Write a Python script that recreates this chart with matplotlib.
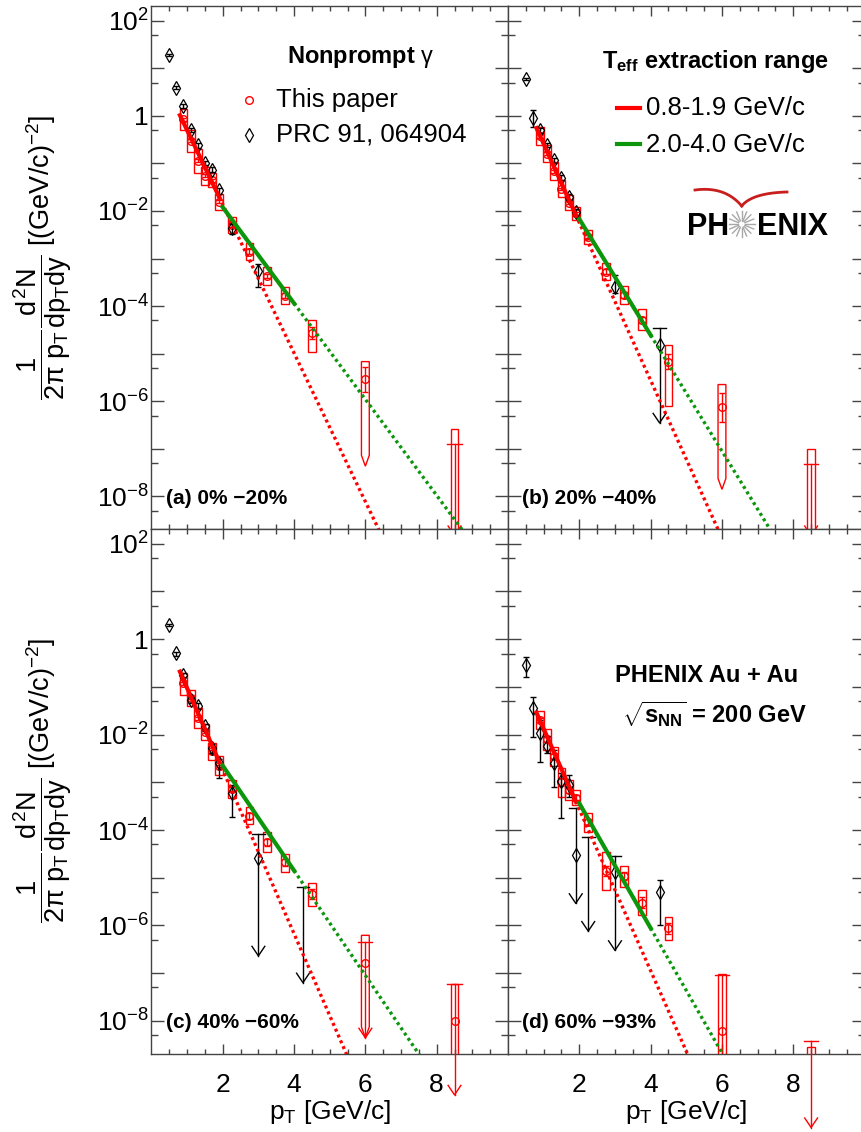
import numpy as np
import matplotlib
matplotlib.use("Agg")
import matplotlib.pyplot as plt
from matplotlib.patches import Rectangle, Polygon
from matplotlib.lines import Line2D
from matplotlib.ticker import FixedLocator, NullFormatter, FuncFormatter

plt.rcParams["font.family"] = ["Liberation Sans", "DejaVu Sans"]
plt.rcParams["mathtext.fontset"] = "custom"
plt.rcParams["mathtext.rm"] = "Liberation Sans"
plt.rcParams["mathtext.it"] = "Liberation Sans"
plt.rcParams["mathtext.bf"] = "Liberation Sans:bold"

nan = np.nan

# ---- data -------------------------------------------------------------
pt_this = [0.9, 1.1, 1.3, 1.5, 1.7, 1.9, 2.25, 2.75, 3.25, 3.75, 4.5, 6.0, 8.5]
pt_prc = [0.5, 0.7, 0.9, 1.1, 1.3, 1.5, 1.7, 1.9, 2.25, 3.0, 4.25]

panel_labels = ["(a) 0% \u221220%", "(b) 20% \u221240%", "(c) 40% \u221260%", "(d) 60% \u221293%"]

# This paper: value, syst box top/bottom, stat (dex)
this_a = [0.84, 0.30, 0.115, 0.055, 0.044, 0.0155, 5.0e-3, 1.4e-3, 4.3e-4, 1.67e-4, 2.75e-5, 2.9e-6, nan]
box_hi_a = [1.42, 0.51, 0.204, 0.084, 0.062, 0.0233, 7.4e-3, 2.1e-3, 6.5e-4, 2.5e-4, 5.0e-5, 6.8e-6, 2.6e-7]
box_lo_a = [0.50, 0.174, 0.063, 0.035, 0.032, 0.0103, 3.4e-3, 9.2e-4, 2.74e-4, 1.09e-4, 1.07e-5, 4.3e-8, 1e-10]
stat_a = [0.03, 0.03, 0.03, 0.03, 0.03, 0.03, 0.04, 0.05, 0.05, 0.06, 0.13, 0.26, nan]

this_b = [0.37, 0.16, 0.068, 0.029, 0.0147, 8.9e-3, 2.8e-3, 5.3e-4, 1.7e-4, 5.1e-5, 6.8e-6, 7.4e-7, nan]
box_hi_b = [0.58, 0.24, 0.107, 0.044, 0.0214, 0.0121, 3.9e-3, 8.1e-4, 2.63e-4, 8.5e-5, 1.55e-5, 2.24e-6, 9.8e-8]
box_lo_b = [0.24, 0.107, 0.044, 0.0197, 0.0103, 6.4e-3, 2.07e-3, 3.5e-4, 1.1e-4, 3.1e-5, 8.1e-7, 1.4e-8, 1e-10]
stat_b = [0.03, 0.03, 0.03, 0.03, 0.03, 0.03, 0.04, 0.05, 0.06, 0.07, 0.15, 0.3, nan]

this_c = [0.12, 0.059, 0.022, 0.0116, 4.5e-3, 2.2e-3, 7.2e-4, 2.0e-4, 5.5e-5, 2.1e-5, 4.6e-6, 1.6e-7, 1.0e-8]
box_hi_c = [0.2, 0.087, 0.036, 0.0168, 6.8e-3, 3.6e-3, 1.12e-3, 3.0e-4, 8.9e-5, 3.2e-5, 7.8e-6, 6.2e-7, 5.8e-8]
box_lo_c = [0.068, 0.040, 0.0137, 7.8e-3, 2.95e-3, 1.45e-3, 4.6e-4, 1.34e-4, 3.4e-5, 1.32e-5, 2.5e-6, 4.4e-9, 1e-10]
stat_c = [0.03, 0.03, 0.03, 0.03, 0.03, 0.03, 0.05, 0.06, 0.07, 0.07, 0.1, nan, nan]

this_d = [0.0204, 7.9e-3, 3.5e-3, 1.0e-3, 6.9e-4, 4.8e-4, 1.47e-4, 1.4e-5, 1.07e-5, 3.0e-6, 8.7e-7, 6.2e-9, nan]
box_hi_d = [0.032, 0.013, 5.5e-3, 2.0e-3, 1.12e-3, 6.9e-4, 2.26e-4, 3.5e-5, 1.72e-5, 5.6e-6, 1.48e-6, 9.5e-8, 2.8e-9]
box_lo_d = [0.013, 4.8e-3, 2.2e-3, 5.0e-4, 4.3e-4, 3.4e-4, 9.3e-5, 5.6e-6, 6.5e-6, 1.67e-6, 5.0e-7, 1e-10, 1e-10]
stat_d = [0.04, 0.05, 0.05, 0.08, 0.06, 0.06, 0.06, 0.1, 0.08, 0.12, 0.12, nan, nan]

# upper-limit arrows on "This paper" points (cap, tip)
this_ul_cap = [
    [nan] * 12 + [1.23e-7],
    [nan] * 12 + [4.9e-8],
    [nan] * 11 + [4.5e-7, 5.8e-8],
    [nan] * 11 + [9.0e-8, 3.7e-9],
]
this_ul_tip = [
    [nan] * 12 + [1.5e-9],
    [nan] * 12 + [1.5e-9],
    [nan] * 11 + [4.4e-9, 2.8e-10],
    [nan] * 11 + [1e-10, 5.8e-11],
]
box_shape = [
    ["box"] * 11 + ["pent", "box"],
    ["box"] * 11 + ["pent", "box"],
    ["box"] * 11 + ["pent", "box"],
    ["box"] * 13,
]

# PRC 91, 064904
prc_a = [18.7, 3.9, 1.6, 0.51, 0.24, 0.102, 0.074, 0.027, 4.3e-3, 5.6e-4, nan]
prc_up_a = [0.02, 0.03, 0.04, 0.04, 0.05, 0.05, 0.06, 0.06, 0.10, 0.14, nan]
prc_dn_a = [0.02, 0.03, 0.04, 0.04, 0.05, 0.05, 0.06, 0.08, 0.12, 0.35, nan]

prc_b = [6.0, 0.91, 0.5, 0.24, 0.116, 0.05, 0.0195, 9.5e-3, nan, 2.5e-4, 1.55e-5]
prc_up_b = [0.02, 0.16, 0.05, 0.04, 0.05, 0.05, 0.06, 0.07, nan, 0.25, nan]
prc_dn_b = [0.02, 0.19, 0.05, 0.04, 0.05, 0.05, 0.06, 0.08, nan, 0.13, nan]

prc_c = [2.0, 0.51, 0.178, 0.054, 0.040, 0.0148, 5.2e-3, 2.5e-3, 5.9e-4, 2.6e-5, nan]
prc_up_c = [0.02, 0.03, 0.05, 0.05, 0.06, 0.06, 0.08, 0.10, 0.18, nan, nan]
prc_dn_c = [0.03, 0.06, 0.05, 0.06, 0.06, 0.10, 0.10, 0.31, 0.49, nan, nan]

prc_d = [0.29, 0.036, 0.0107, 5.9e-3, 2.5e-3, 1.05e-3, 8.9e-4, 3.0e-5, nan, 1.3e-5, 5.1e-6]
prc_up_d = [0.165, 0.23, 0.28, 0.19, 0.28, 0.17, 0.21, nan, nan, nan, 0.25]
prc_dn_d = [0.255, 0.60, 0.61, 0.16, 0.49, 0.77, 0.25, nan, nan, nan, 0.70]

prc_ul_cap = [
    [nan] * 11,
    [nan] * 10 + [3.5e-5],
    [nan] * 9 + [8.1e-5, 6.3e-6],
    [nan] * 7 + [2.95e-4, 7.2e-5, 2.8e-5, nan],
]
prc_ul_tip = [
    [nan] * 11,
    [nan] * 10 + [3.5e-7],
    [nan] * 9 + [2.3e-7, 6.3e-8],
    [nan] * 7 + [2.9e-6, 7.6e-7, 3.0e-7, nan],
]

# exponential T_eff fits: low range 0.8-1.9, high range 2.0-4.0
fit_lo_T = [0.278, 0.262, 0.253, 0.257]
fit_lo_y0 = [1.03, 0.553, 0.209, 0.0288]   # value at 0.8 GeV/c
fit_hi_T = [0.430, 0.356, 0.395, 0.332]
fit_hi_y0 = [0.012, 6.76e-3, 2.24e-3, 3.63e-4]  # value at 2.0 GeV/c

this_y = [this_a, this_b, this_c, this_d]
box_hi = [box_hi_a, box_hi_b, box_hi_c, box_hi_d]
box_lo = [box_lo_a, box_lo_b, box_lo_c, box_lo_d]
stat = [stat_a, stat_b, stat_c, stat_d]
prc_y = [prc_a, prc_b, prc_c, prc_d]
prc_up = [prc_up_a, prc_up_b, prc_up_c, prc_up_d]
prc_dn = [prc_dn_a, prc_dn_b, prc_dn_c, prc_dn_d]

RED = "#ff0000"
GREEN = "#0c960c"
FRAME = "#444444"

W, H = 861, 1132
fig = plt.figure(figsize=(W / 100, H / 100), dpi=100)


def fx(x):
    return x / W


def fy(y):
    return 1 - y / H


def add_ax(x, y, w, h):
    return fig.add_axes([x / W, 1 - (y + h) / H, w / W, h / H])


boxes = [(151.4, 6, 356.6, 523), (508, 6, 356.6, 523),
         (151.4, 529, 356.6, 524.6), (508, 529, 356.6, 524.6)]


def ylab(v, pos):
    k = int(round(np.log10(v)))
    if k % 2:
        return ""
    if k == 0:
        return "1"
    return r"$10^{%d}$" % k


def arrow(ax, x, y0, y1, color, clip, cap=0.18):
    ax.plot([x - cap, x + cap], [y0, y0], color=color, lw=1, clip_on=clip, zorder=4)
    ax.plot([x, x], [y0, y1], color=color, lw=1, clip_on=clip, zorder=4)
    ax.plot([x - 0.18, x, x + 0.18], [y1 * 10 ** 0.2, y1, y1 * 10 ** 0.2],
            color=color, lw=1, clip_on=clip, zorder=4)


bw = 0.11
for i, b in enumerate(boxes):
    ax = add_ax(*b)
    ax.set_yscale("log")
    ax.set_xlim(0, 10)
    ax.set_ylim(10 ** -8.687, 10 ** 2.31)

    # systematic boxes
    for x, hi, lo, sh in zip(pt_this, box_hi[i], box_lo[i], box_shape[i]):
        if sh == "pent":
            p = Polygon([(x - bw, hi), (x + bw, hi), (x + bw, lo * 1.7), (x, lo), (x - bw, lo * 1.7)],
                        closed=True, fill=False, ec=RED, lw=1, zorder=3)
        else:
            p = Rectangle((x - bw, lo), 2 * bw, hi - lo, fill=False, ec=RED, lw=1, zorder=3)
        ax.add_patch(p)

    # statistical errors + markers
    y = np.array(this_y[i])
    s = np.array(stat[i])
    x = np.array(pt_this)
    m = ~np.isnan(s) & ~np.isnan(y)
    ax.errorbar(x[m], y[m], yerr=[y[m] - y[m] * 10 ** -s[m], y[m] * 10 ** s[m] - y[m]],
                fmt="none", ecolor=RED, elinewidth=1, capsize=2.5, zorder=3)
    ax.plot(x, y, "o", ms=5.5, mfc="none", mec=RED, mew=1, zorder=4)
    for xx, c, t in zip(pt_this, this_ul_cap[i], this_ul_tip[i]):
        if not np.isnan(c):
            arrow(ax, xx, c, t, RED, clip=(i < 2 or xx < 8), cap=0.2)

    # PRC points
    py = np.array(prc_y[i])
    pu = np.array(prc_up[i])
    pd = np.array(prc_dn[i])
    px = np.array(pt_prc)
    m = ~np.isnan(pu) & ~np.isnan(py)
    ax.errorbar(px[m], py[m], yerr=[py[m] - py[m] * 10 ** -pd[m], py[m] * 10 ** pu[m] - py[m]],
                fmt="none", ecolor="black", elinewidth=1, capsize=2.5, zorder=4)
    ax.plot(px, py, "d", ms=7.5, mfc="none", mec="black", mew=0.9, zorder=4)
    for xx, c, t in zip(pt_prc, prc_ul_cap[i], prc_ul_tip[i]):
        if not np.isnan(c):
            arrow(ax, xx, c, t, "black", clip=True)

    # fits
    xs = np.linspace(0.8, 1.9, 50)
    ax.plot(xs, fit_lo_y0[i] * np.exp(-(xs - 0.8) / fit_lo_T[i]), color=RED, lw=3, zorder=5)
    xs = np.linspace(1.9, 10, 200)
    ax.plot(xs, fit_lo_y0[i] * np.exp(-(xs - 0.8) / fit_lo_T[i]), color=RED, lw=2.4,
            dashes=(0.9, 1.0), zorder=5)
    xs = np.linspace(2.0, 4.0, 50)
    ax.plot(xs, fit_hi_y0[i] * np.exp(-(xs - 2.0) / fit_hi_T[i]), color=GREEN, lw=3, zorder=5)
    xs = np.linspace(4.0, 10, 200)
    ax.plot(xs, fit_hi_y0[i] * np.exp(-(xs - 2.0) / fit_hi_T[i]), color=GREEN, lw=2.4,
            dashes=(0.9, 1.0), zorder=5)

    # axes style
    ax.xaxis.set_major_locator(FixedLocator([2, 4, 6, 8]))
    ax.xaxis.set_minor_locator(FixedLocator(np.arange(0.5, 10, 0.5)))
    ax.yaxis.set_major_locator(FixedLocator([10.0 ** k for k in range(-8, 3)]))
    ax.yaxis.set_minor_locator(FixedLocator([5 * 10.0 ** k for k in range(-9, 2)]))
    ax.yaxis.set_minor_formatter(NullFormatter())
    ax.yaxis.set_major_formatter(FuncFormatter(ylab))
    ax.tick_params(which="both", direction="in", top=True, right=True, color=FRAME, labelsize=19)
    ax.tick_params(axis="y", which="major", length=9.5, width=1, pad=2)
    ax.tick_params(axis="y", which="minor", length=5, width=1)
    ax.tick_params(axis="x", which="major", length=7.2, width=1, pad=14)
    ax.tick_params(axis="x", which="minor", length=3.6, width=1)
    for sp in ax.spines.values():
        sp.set_color(FRAME)
        sp.set_linewidth(1)
    if i % 2 == 1:
        ax.tick_params(labelleft=False)
    if i < 2:
        ax.tick_params(labelbottom=False)

    lx = [166, 521.7, 166, 521.7][i]
    ly = [503.7, 503.7, 1027.8, 1027.8][i]
    fig.text(fx(lx), fy(ly), panel_labels[i], fontsize=15, fontweight="bold", va="baseline")

# legend (a)
fig.text(fx(287), fy(62.5), r"Nonprompt $\gamma$", fontsize=17, fontweight="bold", va="baseline")
fig.add_artist(Line2D([fx(249.3)], [fy(99.7)], marker="o", ms=5.5, mfc="none", mec=RED, mew=1))
fig.text(fx(276), fy(106.5), "This paper", fontsize=18.5, va="baseline")
fig.add_artist(Line2D([fx(249.3)], [fy(135.2)], marker="d", ms=7.5, mfc="none", mec="black", mew=0.9))
fig.text(fx(276), fy(141.3), "PRC 91, 064904", fontsize=18.5, va="baseline")

# legend (b)
fig.text(fx(601.7), fy(67.6), r"$\mathbf{T_{eff}}$ extraction range", fontsize=17,
         fontweight="bold", va="baseline")
fig.add_artist(Line2D([fx(616.7), fx(640)], [fy(107.7), fy(107.7)], color=RED, lw=3))
fig.text(fx(646), fy(115), "0.8-1.9 GeV/c", fontsize=18.5, va="baseline")
fig.add_artist(Line2D([fx(616.7), fx(640)], [fy(143.7), fy(143.7)], color=GREEN, lw=3))
fig.text(fx(646), fy(151.7), "2.0-4.0 GeV/c", fontsize=18.5, va="baseline")

# PHENIX logo
fig.text(fx(686.7), fy(235), "PH", fontsize=22, fontweight="bold", va="baseline")
fig.text(fx(756.7), fy(235), "ENIX", fontsize=22, fontweight="bold", va="baseline")
cx, cy = 741.7, 224
for a in np.linspace(0, 2 * np.pi, 16, endpoint=False):
    fig.add_artist(Line2D([fx(cx + 3.5 * np.cos(a)), fx(cx + 13 * np.cos(a))],
                          [fy(cy + 3.5 * np.sin(a)), fy(cy + 13 * np.sin(a))],
                          color="#a8a8a8", lw=1))
t = np.linspace(0, 1, 30)
for p0, p1, p2 in [((695, 190), (725, 186), (741.7, 206)), ((741.7, 206), (752, 193), (787, 192))]:
    bx = (1 - t) ** 2 * p0[0] + 2 * (1 - t) * t * p1[0] + t ** 2 * p2[0]
    by = (1 - t) ** 2 * p0[1] + 2 * (1 - t) * t * p1[1] + t ** 2 * p2[1]
    fig.add_artist(Line2D(fx(bx), fy(by), color="#c81e1e", lw=2))

# (d) text
fig.text(fx(615), fy(681.7), "PHENIX Au + Au", fontsize=17, fontweight="bold", va="baseline")
fig.text(fx(621.7), fy(723), r"$\sqrt{\mathbf{s_{NN}}}$ = 200 GeV", fontsize=17,
         fontweight="bold", va="baseline")

# axis titles
ylabel = r"$\dfrac{1}{2\pi\ p_{T}}\dfrac{d^{2}N}{dp_{T}dy}$ [(GeV/c)$^{-2}$]"
for yc in [257, 780]:
    fig.text(fx(43), fy(yc), ylabel, rotation=90, ha="center", va="center", fontsize=19.5)
for xc in [329.7, 686.3]:
    fig.text(fx(xc), fy(1112), r"p$_{T}$ [GeV/c]", ha="center", va="center", fontsize=19)

fig.savefig("out.png", dpi=100)
